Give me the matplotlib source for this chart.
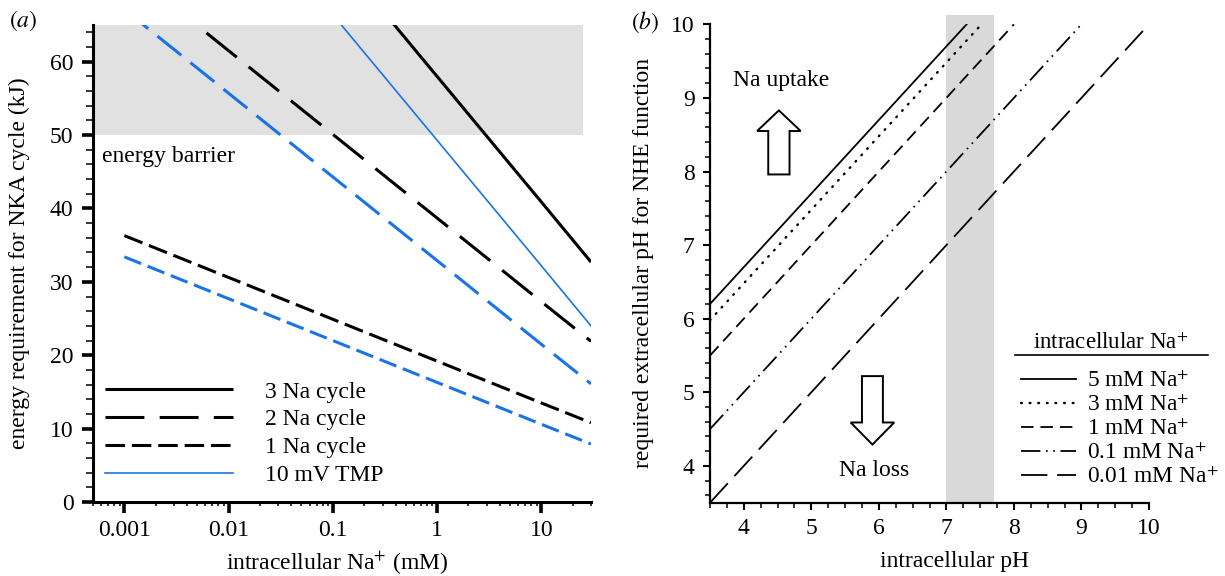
import matplotlib
matplotlib.use('Agg')
import matplotlib.pyplot as plt
from matplotlib.patches import FancyArrow
from matplotlib.lines import Line2D
from matplotlib.ticker import MultipleLocator, LogLocator, NullFormatter

plt.rcParams['font.family'] = ['Liberation Serif', 'DejaVu Serif']
plt.rcParams['mathtext.fontset'] = 'stix'
plt.rcParams['font.size'] = 17
plt.rcParams['lines.scale_dashes'] = False

# %% panel (a) data: energy needed per NKA cycle vs intracellular Na+
na_conc = [0.001, 0.01, 0.1, 1, 10, 30]
e_3na = [109.3, 92.2, 75.1, 58.0, 40.9, 32.7]
e_2na = [72.9, 61.5, 50.1, 38.7, 27.3, 21.9]
e_1na = [36.3, 30.6, 24.9, 19.2, 13.5, 10.8]
e_3na_tmp = [100.6, 83.5, 66.4, 49.3, 32.2, 24.0]
e_2na_tmp = [67.1, 55.7, 44.3, 32.9, 21.5, 16.1]
e_1na_tmp = [33.4, 27.7, 22.0, 16.3, 10.6, 7.9]
barrier = (50, 65)
xticks_a = [0.001, 0.01, 0.1, 1, 10]
xtick_labels_a = ['0.001', '0.01', '0.1', '1', '10']
legend_a = ['3 Na cycle', '2 Na cycle', '1 Na cycle', '10 mV TMP']

# %% panel (b) data: required extracellular pH vs intracellular pH
phi_5 = [3.5, 7.3]
phe_5 = [6.2, 10.0]
phi_3 = [3.5, 7.52]
phe_3 = [5.98, 10.0]
phi_1 = [3.5, 8.0]
phe_1 = [5.5, 10.0]
phi_01 = [3.5, 9.0]
phe_01 = [4.5, 10.0]
phi_001 = [3.5, 10.0]
phe_001 = [3.5, 10.0]
normal_phi = (7.0, 7.7)
legend_b = ['5 mM Na$^{+}$', '3 mM Na$^{+}$', '1 mM Na$^{+}$',
            '0.1 mM Na$^{+}$', '0.01 mM Na$^{+}$']

blue = '#1a74e6'

fig = plt.figure(figsize=(12.25, 5.76), dpi=100)
W, H = 1225, 576
ax_a = fig.add_axes([93 / W, (H - 502) / H, 498 / W, 477 / H])
ax_b = fig.add_axes([710 / W, (H - 502.7) / H, 439 / W, 478.4 / H])

# ---------------- panel a ----------------
ax = ax_a
ax.axhspan(barrier[0], barrier[1], xmin=0.005, xmax=0.984, color='#e1e1e1', lw=0, zorder=0)
l3, = ax.plot(na_conc, e_3na, color='black', lw=2.2, solid_capstyle='butt')
l2, = ax.plot(na_conc, e_2na, color='black', lw=2.2, dashes=(28, 11))
l1, = ax.plot(na_conc, e_1na, color='black', lw=2.2, dashes=(14, 5))
lt, = ax.plot(na_conc, e_3na_tmp, color=blue, lw=1.2)
ax.plot(na_conc, e_2na_tmp, color=blue, lw=2.2, dashes=(22, 8.5))
ax.plot(na_conc, e_1na_tmp, color=blue, lw=2.2, dashes=(13, 5))

ax.set_xscale('log')
ax.set_xlim(0.0005, 30)
ax.set_ylim(0, 65)
ax.set_xticks(xticks_a)
ax.set_xticklabels(xtick_labels_a)
ax.xaxis.set_minor_locator(LogLocator(base=10, subs=range(2, 10), numticks=20))
ax.xaxis.set_minor_formatter(NullFormatter())
ax.yaxis.set_major_locator(MultipleLocator(10))
ax.yaxis.set_minor_locator(MultipleLocator(2))
for s in ['top', 'right']:
    ax.spines[s].set_visible(False)
for s in ['left', 'bottom']:
    ax.spines[s].set_linewidth(2.2)
ax.tick_params(which='major', direction='out', length=8, width=2.6, pad=5)
ax.tick_params(axis='y', which='major', pad=6)
ax.tick_params(axis='y', which='minor', direction='out', length=5, width=1.1)
ax.tick_params(axis='x', which='minor', direction='out', length=3, width=1.1)
ax.text(0.00061, 47.1, 'energy barrier', va='center', ha='left')
ax.set_ylabel('energy requirement for NKA cycle (kJ)')
ax.set_xlabel('intracellular Na$^{+}$ (mM)')
ax.yaxis.set_label_coords(-0.126, 0.5)
ax.xaxis.set_label_coords(0.49, -0.1)
ax.legend([l3, l2, l1, lt], legend_a, loc='lower left', bbox_to_anchor=(0.025, 0.033),
          frameon=False, handlelength=5.4, handletextpad=1.35, labelspacing=0.27,
          borderpad=0, borderaxespad=0)

# ---------------- panel b ----------------
ax = ax_b
ax.axvspan(normal_phi[0], normal_phi[1], ymin=0, ymax=1.019, color='#d9d9d9', lw=0,
           zorder=0, clip_on=False)
b5, = ax.plot(phi_5, phe_5, color='black', lw=1.3)
b3, = ax.plot(phi_3, phe_3, color='black', lw=1.7, dashes=(0.6, 5.6), dash_capstyle='round')
b1, = ax.plot(phi_1, phe_1, color='black', lw=1.3, dashes=(9, 5))
b01, = ax.plot(phi_01, phe_01, color='black', lw=1.3, dashes=(14, 4, 1.2, 4, 1.2, 4))
b001, = ax.plot(phi_001, phe_001, color='black', lw=1.3, dashes=(19, 7))

ax.set_xlim(3.5, 10)
ax.set_ylim(3.5, 10)
ax.xaxis.set_major_locator(MultipleLocator(1))
ax.xaxis.set_minor_locator(MultipleLocator(0.25))
ax.yaxis.set_major_locator(MultipleLocator(1))
ax.yaxis.set_minor_locator(MultipleLocator(0.2))
for s in ['top', 'right']:
    ax.spines[s].set_visible(False)
for s in ['left', 'bottom']:
    ax.spines[s].set_linewidth(1.6)
ax.tick_params(which='major', direction='out', length=5, width=1.5, pad=6)
ax.tick_params(which='minor', direction='out', length=3.5, width=1.1)

ax.add_patch(FancyArrow(4.52, 7.96, 0, 0.87, width=0.315, head_width=0.645,
                        head_length=0.28, length_includes_head=True,
                        facecolor='white', edgecolor='black', lw=1.4))
ax.add_patch(FancyArrow(5.905, 5.22, 0, -0.93, width=0.31, head_width=0.645,
                        head_length=0.30, length_includes_head=True,
                        facecolor='white', edgecolor='black', lw=1.4))
ax.text(4.56, 9.23, 'Na uptake', ha='center', va='center')
ax.text(5.93, 3.94, 'Na loss', ha='center', va='center')

ax.set_ylabel('required extracellular pH for NHE function')
ax.set_xlabel('intracellular pH')
ax.yaxis.set_label_coords(-0.128, 0.5)
ax.xaxis.set_label_coords(0.558, -0.1)

ax.legend([b5, b3, b1, b01, b001], legend_b, loc='lower left',
          bbox_to_anchor=(0.708, 0.03), frameon=False, fontsize=16.8,
          handlelength=2.35, handletextpad=0.5, labelspacing=0.12,
          borderpad=0, borderaxespad=0)
fig.text(1111 / W, 1 - 343 / H, 'intracellular Na$^{+}$', ha='center', va='center',
         fontsize=16.5)
fig.add_artist(Line2D([1015 / W, 1208 / W], [(H - 355) / H, (H - 355) / H],
                      color='black', lw=1.2))

fig.text(23 / W, 1 - 21 / H, r'$(\mathit{a})$', ha='center', va='center', fontsize=17)
fig.text(645 / W, 1 - 22 / H, r'$(\mathit{b})$', ha='center', va='center', fontsize=17)

fig.savefig('out.png', dpi=100)
